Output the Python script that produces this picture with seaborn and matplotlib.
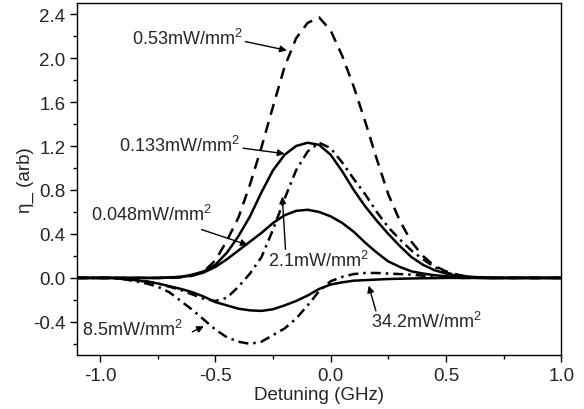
import matplotlib
matplotlib.use('Agg')
from matplotlib import pyplot as plt
from matplotlib.ticker import MultipleLocator
import numpy as np
import pandas as pd
import seaborn as sns

# detuning grid (GHz)
detuning = [-1.10, -1.05, -1.00, -0.95, -0.90, -0.85, -0.80, -0.75, -0.70, -0.65,
            -0.60, -0.55, -0.50, -0.45, -0.40, -0.35, -0.30, -0.25, -0.20, -0.15,
            -0.10, -0.05, 0.00, 0.05, 0.10, 0.15, 0.20, 0.25, 0.30, 0.35,
            0.40, 0.45, 0.50, 0.55, 0.60, 0.65, 0.70, 0.75, 0.80, 0.85,
            0.90, 0.95, 1.00]

eta_0_53 = [0, 0, 0, 0, 0, 0, 0, 0, 0, 0.005,
            0.02, 0.06, 0.16, 0.34, 0.55, 0.85, 1.19, 1.56, 1.92, 2.18,
            2.32, 2.37, 2.25, 2.02, 1.74, 1.42, 1.08, 0.76, 0.52, 0.33,
            0.20, 0.11, 0.06, 0.03, 0.01, 0.005, 0, 0, 0, 0,
            0, 0, 0]

eta_0_133 = [0, 0, 0, 0, 0, 0, 0, 0, 0.005, 0.01,
             0.03, 0.06, 0.12, 0.23, 0.38, 0.56, 0.78, 0.98, 1.12, 1.20,
             1.23, 1.21, 1.12, 0.97, 0.80, 0.65, 0.52, 0.40, 0.29, 0.19,
             0.12, 0.07, 0.04, 0.02, 0.01, 0.005, 0, 0, 0, 0,
             0, 0, 0]

eta_0_048 = [0, 0, 0, 0, 0, 0, 0, 0, 0.003, 0.01,
             0.02, 0.05, 0.10, 0.17, 0.25, 0.33, 0.41, 0.50, 0.57, 0.61,
             0.62, 0.60, 0.56, 0.50, 0.42, 0.32, 0.23, 0.15, 0.10, 0.06,
             0.04, 0.025, 0.015, 0.01, 0.005, 0, 0, 0, 0, 0,
             0, 0, 0]

eta_2_1 = [0, 0, 0, 0, 0, -0.01, -0.03, -0.05, -0.08, -0.11,
           -0.15, -0.19, -0.21, -0.18, -0.08, 0.04, 0.19, 0.44, 0.72, 0.98,
           1.15, 1.23, 1.18, 1.05, 0.90, 0.76, 0.60, 0.46, 0.35, 0.25,
           0.17, 0.10, 0.05, 0.02, 0.01, 0, 0, 0, 0, 0,
           0, 0, 0]

eta_8_5 = [0, 0, 0, 0, -0.01, -0.03, -0.05, -0.08, -0.13, -0.21,
           -0.29, -0.38, -0.47, -0.54, -0.58, -0.60, -0.58, -0.52, -0.46, -0.37,
           -0.25, -0.12, -0.03, 0.01, 0.035, 0.045, 0.045, 0.04, 0.035, 0.03,
           0.02, 0.01, 0.005, 0, 0, 0, 0, 0, 0, 0,
           0, 0, 0]

eta_34_2 = [0, 0, 0, 0, -0.01, -0.02, -0.035, -0.05, -0.075, -0.10,
            -0.13, -0.17, -0.22, -0.25, -0.28, -0.295, -0.30, -0.285, -0.25, -0.21,
            -0.16, -0.10, -0.06, -0.04, -0.025, -0.02, -0.015, -0.01, -0.007, -0.005,
            -0.003, -0.002, 0, 0, 0, 0, 0, 0, 0, 0,
            0, 0, 0]

curves = [
    (eta_0_53, (0, (4.5, 3))),
    (eta_0_133, '-'),
    (eta_0_048, '-'),
    (eta_2_1, (0, (4, 2, 1, 2))),
    (eta_8_5, (0, (4, 2, 1, 2))),
    (eta_34_2, '-'),
]

# (label, text position, arrow tip)
labels = [
    ('0.53mW/mm$^2$', (-0.86, 2.18), (-0.19, 2.07)),
    ('0.133mW/mm$^2$', (-0.92, 1.21), (-0.20, 1.13)),
    ('0.048mW/mm$^2$', (-1.04, 0.58), (-0.36, 0.30)),
    ('2.1mW/mm$^2$', (-0.27, 0.16), (-0.21, 0.74)),
    ('8.5mW/mm$^2$', (-1.08, -0.46), (-0.55, -0.44)),
    ('34.2mW/mm$^2$', (0.175, -0.39), (0.165, -0.07)),
]
arrow_starts = [(-0.37, 2.15), (-0.38, 1.18), (-0.56, 0.44), (-0.196, 0.26),
                (-0.60, -0.49), (0.196, -0.30)]

xticks = [-1.0, -0.5, 0.0, 0.5, 1.0]
yticks = [-0.4, 0.0, 0.4, 0.8, 1.2, 1.6, 2.0, 2.4]

sns.set_theme(style='ticks')
plt.rcParams['font.family'] = ['Liberation Sans', 'DejaVu Sans']
plt.rcParams['mathtext.fontset'] = 'custom'
plt.rcParams['mathtext.rm'] = 'Liberation Sans'
plt.rcParams['mathtext.default'] = 'regular'

fig = plt.figure(figsize=(5.84, 4.10), dpi=100)
ax = fig.add_axes([0.132, 0.132, 0.829, 0.858])

for values, ls in curves:
    df = pd.DataFrame({'x': detuning, 'y': values})
    sns.lineplot(data=df, x='x', y='y', ax=ax, color='black', linewidth=1.8,
                 linestyle=ls, estimator=None, sort=True)

for (text, xy_text, tip), start in zip(labels, arrow_starts):
    ax.text(xy_text[0], xy_text[1], text, fontsize=13, va='center', ha='left')
    ax.annotate('', xy=tip, xytext=start,
                arrowprops=dict(arrowstyle='-|>', color='black', lw=1.0,
                                mutation_scale=10, shrinkA=0, shrinkB=0))

ax.set_xlim(-1.1, 1.0)
ax.set_ylim(-0.7, 2.5)
ax.set_xticks(xticks)
ax.set_xticklabels([f'{v:.1f}' for v in xticks])
ax.set_yticks(yticks)
ax.set_yticklabels([f'{v:.1f}' for v in yticks])
ax.xaxis.set_minor_locator(MultipleLocator(0.25))
ax.yaxis.set_minor_locator(MultipleLocator(0.2))
ax.tick_params(which='both', direction='out', top=False, right=False,
               labelsize=13.5, color='black', width=1)
ax.tick_params(which='major', length=5)
ax.tick_params(which='minor', length=3)
for side in ['top', 'right', 'left', 'bottom']:
    ax.spines[side].set_visible(True)
    ax.spines[side].set_color('black')
    ax.spines[side].set_linewidth(1.0)
ax.set_xlabel('Detuning (GHz)', fontsize=13.5, labelpad=2)
ax.set_ylabel('η_ (arb)', fontsize=13.5, labelpad=-1)

fig.savefig('out.png', dpi=100)
